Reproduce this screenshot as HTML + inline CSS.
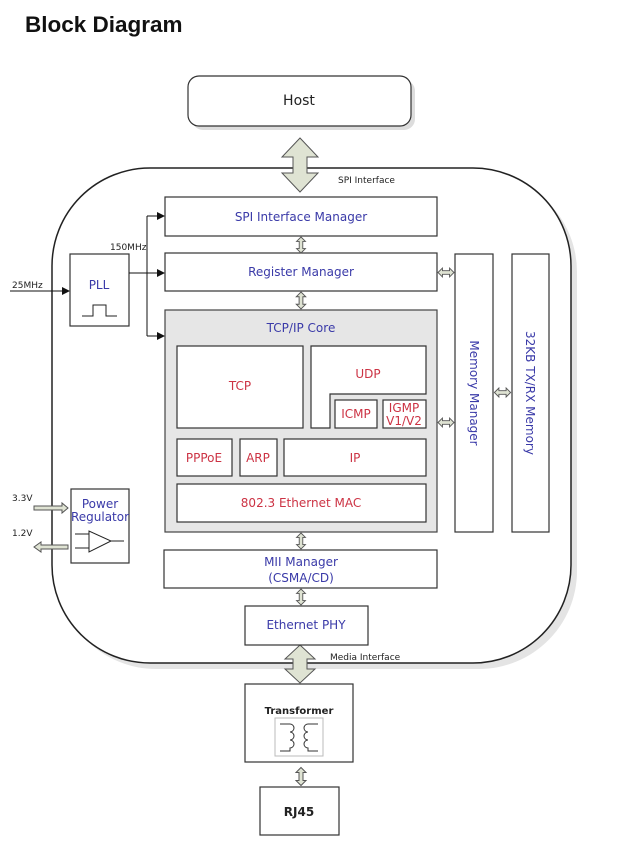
<!DOCTYPE html>
<html><head><meta charset="utf-8"><style>
body{margin:0;background:#fff;width:625px;height:842px;overflow:hidden}
svg{display:block}
text{font-family:"DejaVu Sans","Liberation Sans",sans-serif}
.b{fill:#fff;stroke:#333;stroke-width:1.2}
.bl{fill:#3a3aa8;font-size:12px}
.rd{fill:#cc3344;font-size:12px}
.ar{fill:#dfe3d3;stroke:#555;stroke-width:1}
</style></head><body>
<svg width="625" height="842" viewBox="0 0 625 842">
<defs>
<marker id="m" markerWidth="8" markerHeight="8" refX="7" refY="4" orient="auto" markerUnits="userSpaceOnUse"><path d="M0,0 L8,4 L0,8z" fill="#111"/></marker>
<symbol id="sa" viewBox="0 0 10 18" overflow="visible"><path d="M5,0 L10,5 L7,5 L7,13 L10,13 L5,18 L0,13 L3,13 L3,5 L0,5z" class="ar"/></symbol>
<symbol id="ha" viewBox="0 0 18 10" overflow="visible"><path d="M0,5 L5,0 L5,3 L13,3 L13,0 L18,5 L13,10 L13,7 L5,7 L5,10z" class="ar"/></symbol>
</defs>
<text x="25" y="32" font-size="22.5" font-weight="bold" fill="#111" style="font-family:'Liberation Sans',sans-serif">Block Diagram</text>
<!-- Host -->
<rect x="192" y="80" width="223" height="50" rx="11" fill="#ddd"/>
<rect x="188" y="76" width="223" height="50" rx="11" class="b"/>
<text x="299" y="105" text-anchor="middle" font-size="14" fill="#222">Host</text>
<!-- main -->
<rect x="58" y="174" width="519" height="495" rx="98" fill="#e4e4e4"/>
<rect x="52" y="168" width="519" height="495" rx="98" fill="#fff" stroke="#222" stroke-width="1.5"/>
<!-- big arrows -->
<path d="M300,138 L318,157 L307,157 L307,173 L318,173 L300,192 L282,173 L293,173 L293,157 L282,157z" class="ar"/>
<text x="338" y="183" font-size="9" fill="#222">SPI Interface</text>
<path d="M300,645 L315,659 L307,659 L307,669 L315,669 L300,683 L285,669 L293,669 L293,659 L285,659z" class="ar"/>
<text x="330" y="660" font-size="9" fill="#222">Media Interface</text>
<!-- blocks -->
<rect x="165" y="197" width="272" height="39" class="b"/>
<text x="301" y="221" text-anchor="middle" class="bl">SPI Interface Manager</text>
<rect x="165" y="253" width="272" height="38" class="b"/>
<text x="301" y="276" text-anchor="middle" class="bl">Register Manager</text>
<rect x="165" y="310" width="272" height="222" fill="#e6e6e6" stroke="#444" stroke-width="1.2"/>
<text x="301" y="332" text-anchor="middle" class="bl">TCP/IP Core</text>
<rect x="177" y="346" width="126" height="82" class="b"/>
<text x="240" y="390" text-anchor="middle" class="rd">TCP</text>
<path d="M311,346 L426,346 L426,394 L330,394 L330,428 L311,428z" class="b"/>
<text x="368" y="378" text-anchor="middle" class="rd">UDP</text>
<rect x="335" y="400" width="42" height="28" class="b"/>
<text x="356" y="418" text-anchor="middle" class="rd" font-size="11">ICMP</text>
<rect x="383" y="400" width="43" height="28" class="b"/>
<text x="404" y="412" text-anchor="middle" class="rd" font-size="11">IGMP</text>
<text x="404" y="425" text-anchor="middle" class="rd" font-size="9">V1/V2</text>
<rect x="177" y="439" width="55" height="37" class="b"/>
<text x="204" y="462" text-anchor="middle" class="rd">PPPoE</text>
<rect x="240" y="439" width="37" height="37" class="b"/>
<text x="258" y="462" text-anchor="middle" class="rd">ARP</text>
<rect x="284" y="439" width="142" height="37" class="b"/>
<text x="355" y="462" text-anchor="middle" class="rd">IP</text>
<rect x="177" y="484" width="249" height="38" class="b"/>
<text x="301" y="507" text-anchor="middle" class="rd">802.3 Ethernet MAC</text>
<rect x="164" y="550" width="273" height="38" class="b"/>
<text x="301" y="566" text-anchor="middle" class="bl">MII  Manager</text>
<text x="301" y="582" text-anchor="middle" class="bl">(CSMA/CD)</text>
<rect x="245" y="606" width="123" height="39" class="b"/>
<text x="306" y="629" text-anchor="middle" class="bl">Ethernet PHY</text>
<rect x="455" y="254" width="38" height="278" class="b"/>
<text transform="translate(470,393) rotate(90)" text-anchor="middle" class="bl" font-size="11">Memory Manager</text>
<rect x="512" y="254" width="37" height="278" class="b"/>
<text transform="translate(526,393) rotate(90)" text-anchor="middle" class="bl" font-size="11">32KB TX/RX Memory</text>
<!-- small arrows -->
<use href="#sa" x="296" y="237" width="10" height="16"/>
<use href="#sa" x="296" y="292" width="10" height="17"/>
<use href="#sa" x="296" y="533" width="10" height="16"/>
<use href="#sa" x="296" y="589" width="10" height="16"/>
<use href="#sa" x="296" y="767" width="10" height="19"/>
<use href="#ha" x="438" y="268" width="16" height="9"/>
<use href="#ha" x="438" y="418" width="16" height="9"/>
<use href="#ha" x="494" y="388" width="17" height="9"/>
<!-- PLL -->
<rect x="70" y="254" width="59" height="72" class="b"/>
<text x="99" y="289" text-anchor="middle" class="bl">PLL</text>
<path d="M82,316 L93,316 L93,305 L106,305 L106,316 L117,316" fill="none" stroke="#222" stroke-width="1"/>
<line x1="10" y1="291" x2="69" y2="291" stroke="#111" marker-end="url(#m)"/>
<text x="12" y="288" font-size="9" fill="#222">25MHz</text>
<line x1="129" y1="273" x2="164" y2="273" stroke="#111" marker-end="url(#m)"/>
<line x1="147" y1="216" x2="147" y2="336" stroke="#111"/>
<line x1="147" y1="216" x2="164" y2="216" stroke="#111" marker-end="url(#m)"/>
<line x1="147" y1="336" x2="164" y2="336" stroke="#111" marker-end="url(#m)"/>
<text x="110" y="250" font-size="9" fill="#222">150MHz</text>
<!-- Power -->
<rect x="71" y="489" width="58" height="74" class="b"/>
<text x="100" y="508" text-anchor="middle" class="bl" font-size="9">Power</text>
<text x="100" y="521" text-anchor="middle" class="bl" font-size="8.5">Regulator</text>
<path d="M89,531 L89,552 L111,541z M75,534 L89,534 M75,548 L89,548 M111,541 L124,541" fill="none" stroke="#222" stroke-width="1"/>
<text x="12" y="501" font-size="9" fill="#222">3.3V</text>
<text x="12" y="536" font-size="9" fill="#222">1.2V</text>
<path d="M34,506 L62,506 L62,503 L68,508 L62,513 L62,510 L34,510z" class="ar"/>
<path d="M68,545 L41,545 L41,542 L34,547 L41,552 L41,549 L68,549z" class="ar"/>
<!-- Transformer -->
<rect x="245" y="684" width="108" height="78" class="b"/>
<text x="299" y="714" text-anchor="middle" font-size="10" font-weight="bold" fill="#222">Transformer</text>
<rect x="275" y="718" width="48" height="38" fill="#fff" stroke="#bbb"/>
<path d="M280,724 L290,724 a4,4 0 0 1 0,8 a4,4 0 0 1 0,8 a4,4 0 0 1 0,8 L290,751 L280,751 M318,724 L308,724 a4,4 0 0 0 0,8 a4,4 0 0 0 0,8 a4,4 0 0 0 0,8 L308,751 L318,751" fill="none" stroke="#333" stroke-width="1"/>
<rect x="260" y="787" width="79" height="48" class="b"/>
<text x="299" y="816" text-anchor="middle" font-size="12" font-weight="bold" fill="#222">RJ45</text>
</svg>
</body></html>
